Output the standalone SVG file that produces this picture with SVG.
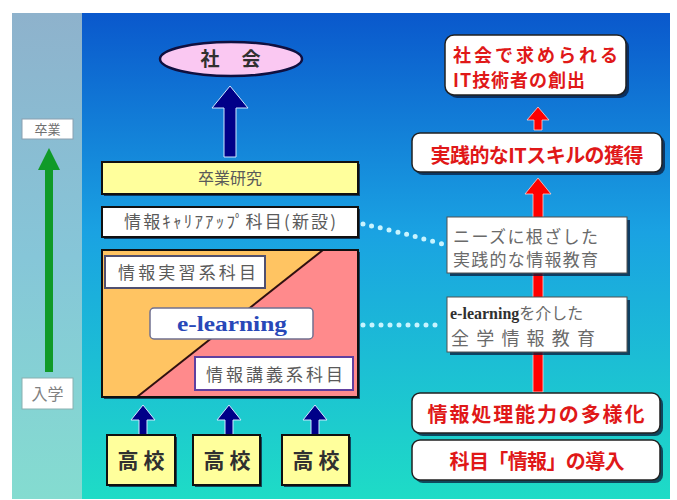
<svg xmlns="http://www.w3.org/2000/svg" width="677" height="500" viewBox="0 0 677 500">
<style>
.jp{font-family:"Noto Sans CJK JP","Noto Sans",sans-serif}
.gray{fill:#5a5a5a}
.red{fill:#e01818;font-weight:bold}
.box{stroke:#101010;stroke-width:2}
.shadow{fill:#0a1a3a;opacity:0.75}
.navy{fill:#000088;stroke:#cfe8ff;stroke-width:1}
.redarr{fill:#ff0000;stroke:#ffd0d0;stroke-width:0.8}
.dots{fill:none;stroke:#c8f4ff;stroke-width:5;stroke-dasharray:0 9;stroke-linecap:round}
</style>
<defs>
<linearGradient id="bg" x1="0" y1="0" x2="0" y2="1">
<stop offset="0" stop-color="#0a58cc"/>
<stop offset="0.45" stop-color="#1aa2e2"/>
<stop offset="1" stop-color="#1edcc6"/>
</linearGradient>
<linearGradient id="band" x1="0" y1="0" x2="0" y2="1">
<stop offset="0" stop-color="#8eb2cc"/>
<stop offset="0.5" stop-color="#86c6d8"/>
<stop offset="1" stop-color="#84dcd0"/>
</linearGradient>
</defs>
<rect width="677" height="500" fill="#ffffff"/>
<rect x="12" y="13" width="658" height="486" fill="url(#bg)"/>
<rect x="12" y="13" width="70" height="486" fill="url(#band)"/>

<g id="connectors">
<polygon class="navy" points="230,86 248,108 236,108 236,157 224,157 224,108 212,108"/>
<polygon class="navy" points="143,405 155,420 147,420 147,435 139,435 139,420 131,420"/>
<polygon class="navy" points="229,405 241,420 233,420 233,435 225,435 225,420 217,420"/>
<polygon class="navy" points="315,405 327,420 319,420 319,435 311,435 311,420 303,420"/>
<polygon fill="#109a28" points="49,148 60,170 53,170 53,372 45,372 45,170 38,170"/>
<polygon class="redarr" points="538,107 549,120 542,120 542,130 534,130 534,120 527,120"/>
<polygon class="redarr" points="538,178 551,194 543,194 543,392 533,392 533,194 525,194"/>
<path class="dots" d="M363,224 Q400,232 442,244"/>
<path class="dots" d="M363,325 L442,325"/>
</g>

<g id="shakai">
<ellipse cx="231" cy="59" rx="71" ry="17" fill="#fac8f2" stroke="#101040" stroke-width="2.5"/>
<text y="66" text-anchor="middle" class="jp" font-size="19" font-weight="bold" fill="#303030"><tspan x="210">社</tspan><tspan x="251">会</tspan></text>
</g>

<g id="sotsugyo-kenkyu">
<rect x="104" y="164" width="256" height="32" class="shadow"/>
<rect x="102" y="162" width="256" height="32" fill="#ffff9c" class="box"/>
<text x="230" y="184" text-anchor="middle" class="jp gray" font-size="16">卒業研究</text>
</g>

<g id="career-up">
<rect x="104" y="209" width="256" height="30" class="shadow"/>
<rect x="102" y="207" width="256" height="30" fill="#ffffff" class="box"/>
<text x="124" y="228" class="jp gray" font-size="17" textLength="212" lengthAdjust="spacing">情報ｷｬﾘｱｱｯﾌﾟ科目(新設)</text>
</g>

<g id="course-block">
<rect x="104" y="252" width="256" height="147" class="shadow"/>
<polygon points="102,250 323,250 137,397 102,397" fill="#ffc462"/>
<polygon points="323,250 358,250 358,397 137,397" fill="#ff8a8c"/>
<line x1="137" y1="397" x2="323" y2="250" stroke="#301010" stroke-width="2"/>
<rect x="102" y="250" width="256" height="147" fill="none" class="box"/>
</g>

<g id="jisshu">
<rect x="105" y="256" width="160" height="32" fill="#ffffff" stroke="#505070" stroke-width="2"/>
<text x="118" y="279" class="jp gray" font-size="17" textLength="138" lengthAdjust="spacing">情報実習系科目</text>
</g>

<g id="e-learning">
<rect x="150" y="308" width="163" height="31" rx="4" fill="#ffffff" stroke="#707090" stroke-width="1.5"/>
<text x="177" y="331" font-family="Liberation Serif,serif" font-weight="bold" font-size="22" fill="#2848b8" textLength="110" lengthAdjust="spacingAndGlyphs">e-learning</text>
</g>

<g id="kogi">
<rect x="195" y="357" width="158" height="33" fill="#ffffff" stroke="#6040a0" stroke-width="2"/>
<text x="206" y="381" class="jp gray" font-size="17" textLength="137" lengthAdjust="spacing">情報講義系科目</text>
</g>

<g id="koko1">
<rect x="109" y="437" width="68" height="50" class="shadow"/>
<rect x="107" y="435" width="68" height="50" fill="#ffff9c" class="box"/>
<text x="141" y="468" text-anchor="middle" class="jp" font-size="21" font-weight="bold" fill="#303030">高 校</text>
</g>
<g id="koko2">
<rect x="195" y="437" width="67" height="50" class="shadow"/>
<rect x="193" y="435" width="67" height="50" fill="#ffff9c" class="box"/>
<text x="227" y="468" text-anchor="middle" class="jp" font-size="21" font-weight="bold" fill="#303030">高 校</text>
</g>
<g id="koko3">
<rect x="284" y="437" width="67" height="50" class="shadow"/>
<rect x="282" y="435" width="67" height="50" fill="#ffff9c" class="box"/>
<text x="316" y="468" text-anchor="middle" class="jp" font-size="21" font-weight="bold" fill="#303030">高 校</text>
</g>

<g id="sotsugyo">
<rect x="22" y="119" width="51" height="20" fill="#ffffff" stroke="#8aa0b0" stroke-width="1"/>
<text x="47.5" y="134" text-anchor="middle" class="jp" font-size="13" fill="#707070">卒業</text>
</g>
<g id="nyugaku">
<rect x="22" y="378" width="51" height="31" fill="#ffffff" stroke="#8ab0b0" stroke-width="1"/>
<text x="47.5" y="400" text-anchor="middle" class="jp" font-size="16" fill="#808080">入学</text>
</g>

<g id="it-engineer">
<rect x="448" y="38" width="181" height="60" rx="9" class="shadow"/>
<rect x="445" y="35" width="181" height="60" rx="9" fill="#ffffff" stroke="#202020" stroke-width="1.5"/>
<text x="453" y="62" class="jp red" font-size="18" textLength="165" lengthAdjust="spacing">社会で求められる</text>
<text x="453" y="87" class="jp red" font-size="18" textLength="132" lengthAdjust="spacing">IT技術者の創出</text>
</g>

<g id="it-skill">
<rect x="415" y="136" width="250" height="39" rx="8" class="shadow"/>
<rect x="412" y="133" width="250" height="39" rx="8" fill="#ffffff" stroke="#202020" stroke-width="1.5"/>
<text x="537" y="163" text-anchor="middle" class="jp red" font-size="20" textLength="213" lengthAdjust="spacing">実践的なITスキルの獲得</text>
</g>

<g id="needs">
<rect x="450" y="220" width="180" height="56" class="shadow"/>
<rect x="447" y="217" width="180" height="56" fill="#ffffff" stroke="#505050" stroke-width="1"/>
<text x="453" y="243" class="jp" font-size="17" fill="#6a6a6a" textLength="145" lengthAdjust="spacing">ニーズに根ざした</text>
<text x="453" y="266" class="jp" font-size="17" fill="#6a6a6a" textLength="145" lengthAdjust="spacing">実践的な情報教育</text>
</g>

<g id="elearning-edu">
<rect x="450" y="300" width="180" height="55" class="shadow"/>
<rect x="447" y="297" width="180" height="55" fill="#ffffff" stroke="#505050" stroke-width="1"/>
<text x="450" y="319" font-size="16"><tspan font-family="Liberation Serif,serif" font-weight="bold" fill="#303030">e-learning</tspan><tspan class="jp" fill="#6a6a6a">を介した</tspan></text>
<text x="451" y="345" class="jp" font-size="18" fill="#6a6a6a" textLength="144" lengthAdjust="spacing">全学情報教育</text>
</g>

<g id="diversify">
<rect x="415" y="396" width="248" height="40" rx="8" class="shadow"/>
<rect x="412" y="393" width="248" height="40" rx="8" fill="#ffffff" stroke="#202020" stroke-width="1.5"/>
<text x="536" y="422" text-anchor="middle" class="jp red" font-size="20" textLength="217" lengthAdjust="spacing">情報処理能力の多様化</text>
</g>

<g id="subject-intro">
<rect x="415" y="443" width="248" height="40" rx="8" class="shadow"/>
<rect x="412" y="440" width="248" height="40" rx="8" fill="#ffffff" stroke="#202020" stroke-width="1.5"/>
<text x="537" y="469" text-anchor="middle" class="jp red" font-size="20" textLength="175" lengthAdjust="spacing">科目「情報」の導入</text>
</g>
</svg>
